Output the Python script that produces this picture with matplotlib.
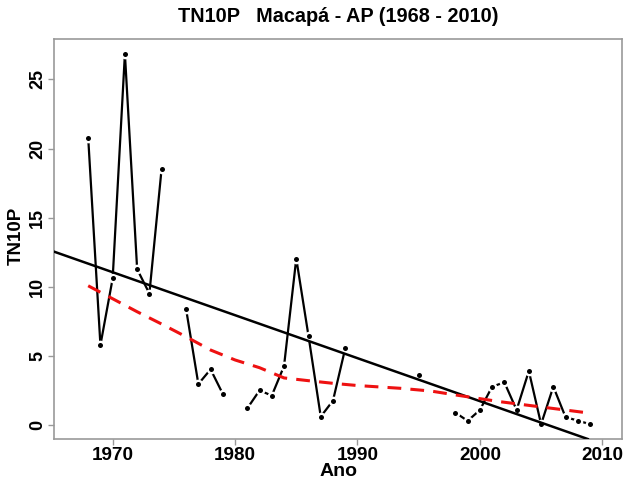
import numpy as np
import matplotlib
matplotlib.use("Agg")
import matplotlib.pyplot as plt

plt.rcParams['font.family'] = ['Liberation Sans', 'DejaVu Sans']
plt.rcParams['font.weight'] = 'bold'

years = list(range(1968, 2010))
values = [20.8, 5.78, 10.6, 26.86, 11.27, 9.51, 18.55, np.nan, 8.38, 2.96,
          4.02, 2.24, np.nan, 1.2, 2.5, 2.12, 4.26, 12.04, 6.43, 0.6,
          1.76, 5.54, np.nan, np.nan, np.nan, np.nan, np.nan, 3.61, np.nan, np.nan,
          0.89, 0.29, 1.08, 2.77, 3.08, 1.08, 3.9, 0.05, 2.77, 0.56,
          0.31, 0.05]

smooth_years = [1968, 1970, 1972, 1974, 1976, 1978, 1980, 1982, 1984, 1986,
                1988, 1990, 1993.5, 1996, 1998, 2001.65, 2005, 2009]
smooth_vals = [10.07, 9.13, 8.19, 7.3, 6.38, 5.42, 4.7, 4.14, 3.4, 3.2,
               3.01, 2.85, 2.65, 2.45, 2.17, 1.68, 1.3, 0.85]

trend_at_1970 = 11.05
trend_slope = -0.311

title = "TN10P   Macapá - AP (1968 - 2010)"
xlabel = "Ano"
ylabel = "TN10P"
xticks = [1970, 1980, 1990, 2000, 2010]
yticks = [0, 5, 10, 15, 20, 25]

fig = plt.figure(figsize=(6.26, 4.79), dpi=100)
ax = fig.add_axes([0.0867, 0.0835, 0.9944 - 0.0867, 0.9186 - 0.0835])

x = np.array(years, dtype=float)
y = np.array(values, dtype=float)

ax.plot(x, y, color='black', lw=1.6, zorder=2)
ax.plot(x, y, 'o', color='white', ms=7, mec='none', zorder=2.5)
ax.plot(x, y, 'o', color='black', ms=3.6, mec='none', zorder=3)

ax.axline((1970, trend_at_1970), slope=trend_slope, color='black', lw=1.8, zorder=4)
ax.plot(smooth_years, smooth_vals, color='#ee1111', lw=2.2, ls=(0, (4.5, 3)), zorder=4)

ax.set_xlim(1965.23, 2011.65)
ax.set_ylim(-1.02, 27.93)
ax.set_xticks(xticks)
ax.set_yticks(yticks)
ax.set_xticklabels([str(t) for t in xticks], fontsize=13.6, fontweight='bold')
ax.set_yticklabels([str(t) for t in yticks], fontsize=13, fontweight='bold',
                   rotation=90, va='center')
for s in ax.spines.values():
    s.set_color('#999999')
    s.set_linewidth(1.2)
ax.tick_params(axis='both', color='#999999', length=4, width=1, pad=2)
ax.set_xlabel(xlabel, fontsize=14, fontweight='bold', va='baseline')
ax.xaxis.set_label_coords(0.5, -0.093)
ax.set_ylabel(ylabel, fontsize=13.5, fontweight='bold')
ax.yaxis.set_label_coords(-0.052, 0.5075)
fig.text(0.5 * (0.0867 + 0.9944), 1 - 17 / 479, title, ha='center', va='center',
         fontsize=14.3, fontweight='bold')

fig.savefig('out.png', dpi=100)
